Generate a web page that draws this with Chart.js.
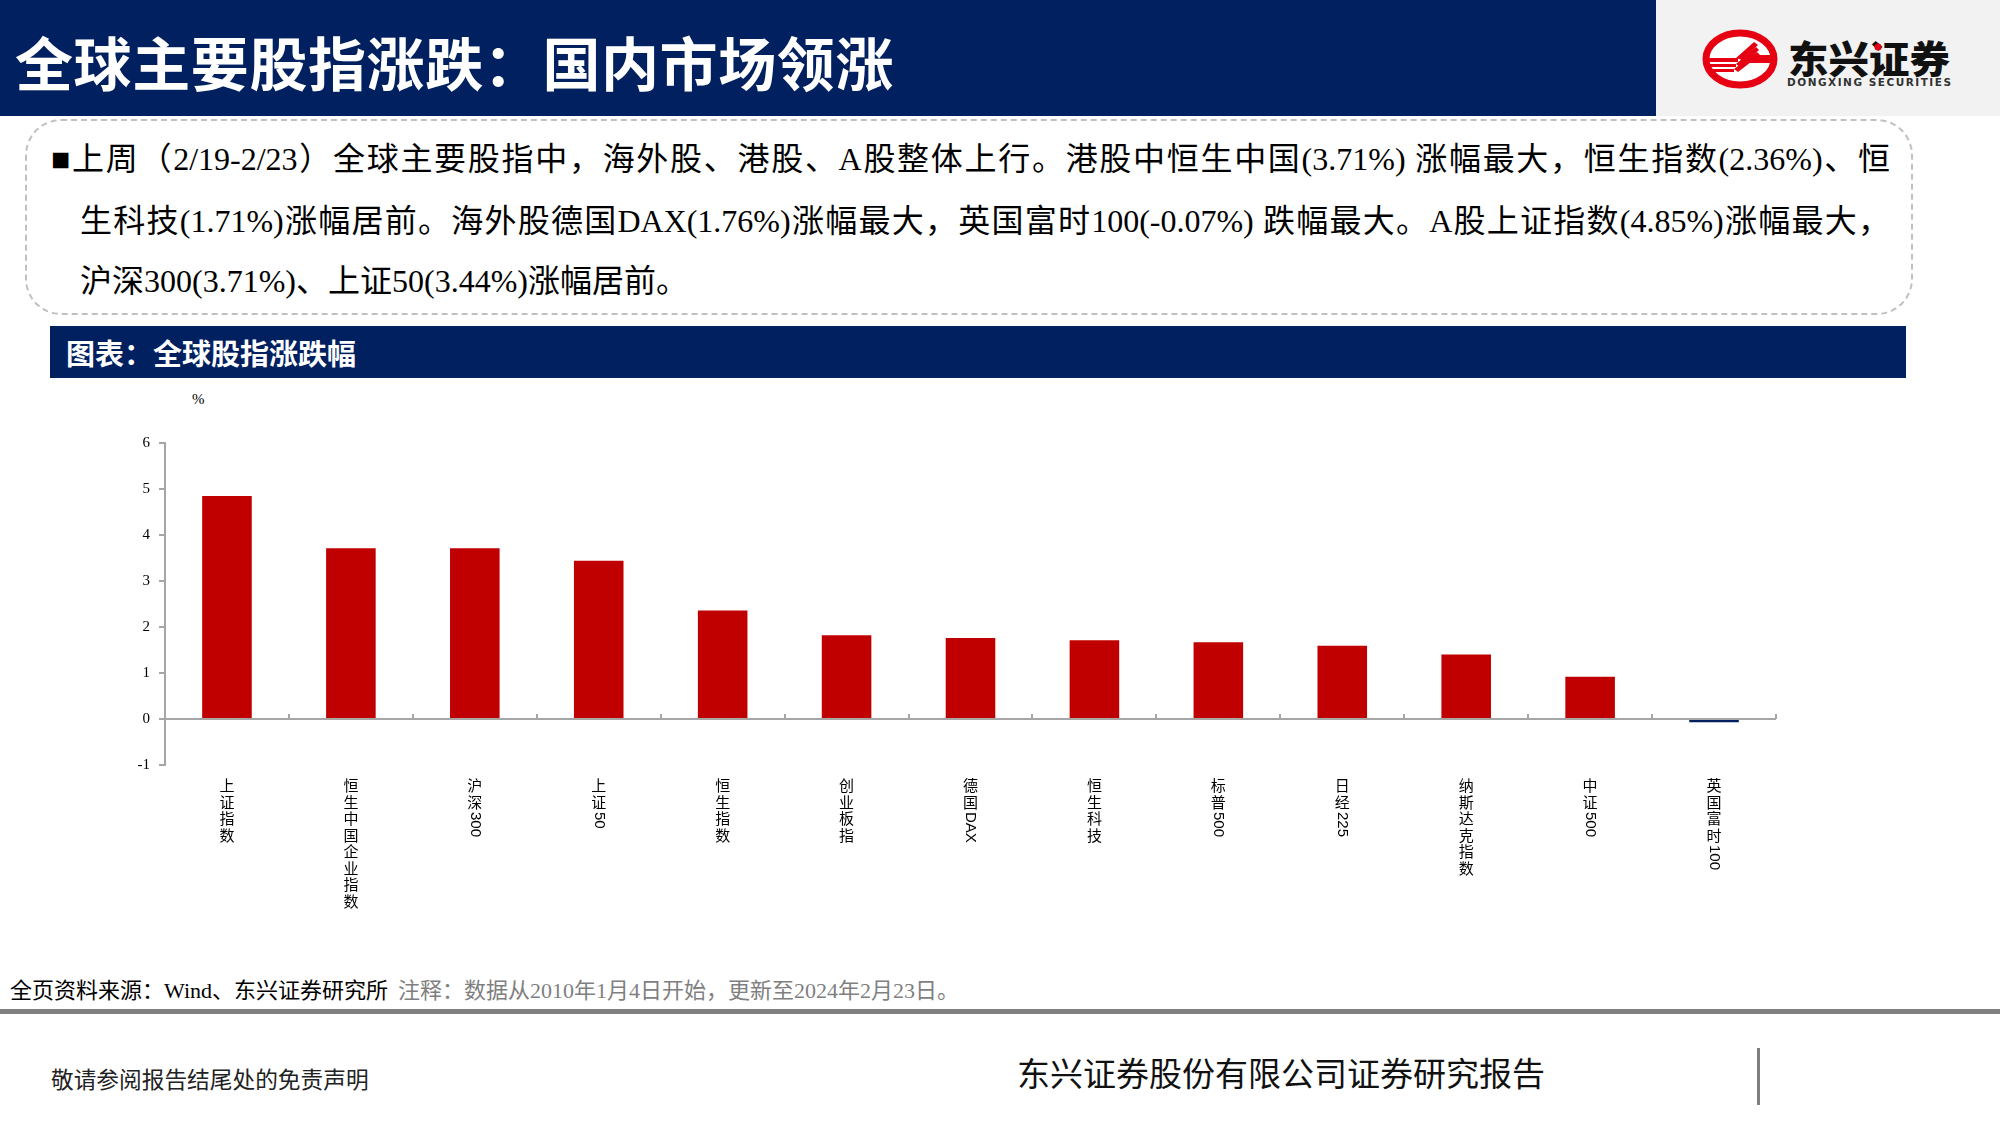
<!DOCTYPE html>
<html lang="zh-CN">
<head>
<meta charset="utf-8">
<title>全球主要股指涨跌：国内市场领涨</title>
<script src="https://cdn.jsdelivr.net/npm/chart.js@4.4.1/dist/chart.umd.min.js"></script>
<style>
    html, body {
        margin: 0;
        padding: 0;
        width: 2000px;
        height: 1125px;
        overflow: hidden;
        background: #ffffff;
        font-family: "Liberation Serif", "Noto Sans CJK SC", serif;
        color: #000;
    }
    .abs { position: absolute; }
    #header {
        left: 0; top: 0; width: 1656px; height: 116px;
        background: #002060;
    }
    #title {
        left: 15px; top: 25px;
        font-family: "Noto Sans CJK SC", sans-serif;
        font-weight: 700;
        font-size: 58px;
        letter-spacing: 0.6px;
        line-height: 72px;
        color: #fff;
        white-space: nowrap;
    }
    #logoBox {
        left: 1656px; top: 0; width: 344px; height: 116px;
        background: #f2f2f2;
    }
    #summary {
        left: 25px; top: 119px; width: 1884px; height: 192px;
        border: 2px dashed #c0c0c0;
        border-radius: 36px;
    }
    .line {
        font-size: 32px;
        line-height: 40px;
        white-space: nowrap;
        overflow: visible;
    }
    .justify {
        text-align: justify;
        text-align-last: justify;
        text-justify: inter-character;
    }
    #chartHead {
        left: 50px; top: 326px; width: 1856px; height: 52px;
        background: #002060;
    }
    #chartTitle {
        left: 66px; top: 333px;
        font-family: "Noto Sans CJK SC", sans-serif;
        font-weight: 700;
        font-size: 29px;
        line-height: 38px;
        color: #fff;
        white-space: nowrap;
    }
    #unit {
        left: 192px; top: 389px;
        font-size: 15px;
        line-height: 20px;
    }
    #chartWrap {
        left: 0; top: 380px; width: 1860px; height: 560px;
    }
    #source {
        left: 10px; top: 977px;
        font-size: 22px;
        line-height: 28px;
        white-space: nowrap;
    }
    #source .note { color: #7f7f7f; margin-left: 10px; }
    #rule {
        left: 0; top: 1009px; width: 2000px; height: 5px;
        background: #808080;
    }
    #disclaimer {
        left: 51px; top: 1067px;
        font-size: 22.7px;
        line-height: 28px;
        color: #222;
        white-space: nowrap;
    }
    #company {
        left: 1017px; top: 1054px;
        font-size: 33px;
        line-height: 42px;
        color: #111;
        white-space: nowrap;
    }
    #vbar {
        left: 1757px; top: 1048px; width: 3px; height: 57px;
        background: #7f7f7f;
    }
</style>
</head>
<body>

<div id="header" class="abs"></div>
<div id="title" class="abs">全球主要股指涨跌：国内市场领涨</div>

<div id="logoBox" class="abs">
    <svg width="344" height="116" viewBox="0 0 344 116">
        <ellipse cx="84" cy="59" rx="34" ry="26" fill="#fff" stroke="#e60012" stroke-width="7"/>
        <g fill="#e60012">
            <rect x="52" y="58" width="30" height="4"/>
            <rect x="52" y="64" width="28" height="3"/>
            <rect x="52" y="69" width="26" height="3"/>
            <polygon points="80,58 98,42 102,45 86,60"/>
            <polygon points="80,64 100,47 103,50 84,67"/>
            <polygon points="78,69 101,52 104,55 82,72"/>
            <rect x="92" y="55" width="26" height="8"/>
        </g>
        <text x="132" y="73" font-family="Noto Sans CJK SC" font-weight="900" font-size="38"
              textLength="162" lengthAdjust="spacingAndGlyphs" fill="#111">东兴证券</text>
        <circle cx="222" cy="47" r="3.5" fill="#e60012"/>
        <text x="131" y="86" font-family="DejaVu Sans" font-weight="bold" font-size="10.5"
              textLength="164" lengthAdjust="spacing" fill="#333">DONGXING SECURITIES</text>
    </svg>
</div>

<div id="summary" class="abs"></div>
<div class="abs line justify" style="left:51px; top:139px; width:1839px;">■上周（2/19-2/23）全球主要股指中，海外股、港股、A股整体上行。港股中恒生中国(3.71%) 涨幅最大，恒生指数(2.36%)、恒</div>
<div class="abs line justify" style="left:80px; top:201px; width:1810px;">生科技(1.71%)涨幅居前。海外股德国DAX(1.76%)涨幅最大，英国富时100(-0.07%) 跌幅最大。A股上证指数(4.85%)涨幅最大，</div>
<div class="abs line" style="left:80px; top:261px;">沪深300(3.71%)、上证50(3.44%)涨幅居前。</div>

<div id="chartHead" class="abs"></div>
<div id="chartTitle" class="abs">图表：全球股指涨跌幅</div>
<div id="unit" class="abs">%</div>

<div id="chartWrap" class="abs"><canvas id="barChart"></canvas></div>

<div id="source" class="abs">全页资料来源：Wind、东兴证券研究所<span class="note">注释：数据从2010年1月4日开始，更新至2024年2月23日。</span></div>
<div id="rule" class="abs"></div>
<div id="disclaimer" class="abs">敬请参阅报告结尾处的免责声明</div>
<div id="company" class="abs">东兴证券股份有限公司证券研究报告</div>
<div id="vbar" class="abs"></div>

<script>
// === DONNÉES ===
const categories = ['上证指数', '恒生中国企业指数', '沪深300', '上证50', '恒生指数', '创业板指',
    '德国DAX', '恒生科技', '标普500', '日经225', '纳斯达克指数', '中证500', '英国富时100'];
const changes = [4.85, 3.71, 3.71, 3.44, 2.36, 1.82, 1.76, 1.71, 1.67, 1.59, 1.40, 0.92, -0.07];
const yTickValues = [-1, 0, 1, 2, 3, 4, 5, 6];

const UP_COLOR = '#c00000';
const DOWN_COLOR = '#002060';
const AXIS_COLOR = '#a6a6a6';

// === PLUGIN : petits traits vers le haut entre catégories sur la ligne 0 ===
const innerTicks = {
    id: 'innerTicks',
    afterDatasetsDraw(chart) {
        const x = chart.scales.x;
        const y = chart.scales.y;
        const ctx = chart.ctx;
        const step = x.getPixelForValue(1) - x.getPixelForValue(0);
        const y0 = y.getPixelForValue(0);
        ctx.save();
        ctx.strokeStyle = AXIS_COLOR;
        ctx.lineWidth = 2;
        for (let i = 1; i <= categories.length; i++) {
            const px = Math.round(x.getPixelForValue(i) - step / 2);
            ctx.beginPath();
            ctx.moveTo(px, y0);
            ctx.lineTo(px, y0 - 5);
            ctx.stroke();
        }
        ctx.restore();
    }
};

// === PLUGIN : libellés verticaux (caractères chinois debout, chiffres tournés) ===
const verticalLabels = {
    id: 'verticalLabels',
    afterDraw(chart) {
        const x = chart.scales.x;
        const ctx = chart.ctx;
        const top = chart.chartArea.bottom + 13;
        ctx.save();
        ctx.fillStyle = '#000';
        categories.forEach((label, i) => {
            const cx = x.getPixelForValue(i);
            let cy = top;
            const runs = label.match(/[A-Za-z0-9]+|[^A-Za-z0-9]/g);
            runs.forEach(run => {
                if (/^[A-Za-z0-9]+$/.test(run)) {
                    ctx.font = '15px "Liberation Sans", sans-serif';
                    const w = ctx.measureText(run).width;
                    ctx.save();
                    ctx.translate(cx, cy + 1);
                    ctx.rotate(Math.PI / 2);
                    ctx.textAlign = 'left';
                    ctx.textBaseline = 'middle';
                    ctx.fillText(run, 0, 0);
                    ctx.restore();
                    cy += w + 2;
                } else {
                    ctx.font = '15px "Noto Sans CJK SC", sans-serif';
                    ctx.textAlign = 'center';
                    ctx.textBaseline = 'top';
                    ctx.fillText(run, cx, cy);
                    cy += 16.5;
                }
            });
        });
        ctx.restore();
    }
};

// === GRAPHIQUE ===
const ctx = document.getElementById('barChart').getContext('2d');
const chart = new Chart(ctx, {
    type: 'bar',
    data: {
        labels: categories,
        datasets: [{
            data: changes,
            backgroundColor: changes.map(v => v >= 0 ? UP_COLOR : DOWN_COLOR),
            borderWidth: 0,
            barPercentage: 0.4,
            categoryPercentage: 1.0
        }]
    },
    options: {
        responsive: true,
        maintainAspectRatio: false,
        devicePixelRatio: 1,
        animation: false,
        layout: {
            padding: { left: 115, right: 84, top: 63, bottom: 175 }
        },
        plugins: {
            legend: { display: false },
            tooltip: { enabled: false }
        },
        scales: {
            x: {
                display: false
            },
            y: {
                min: yTickValues[0],
                max: yTickValues[yTickValues.length - 1],
                afterFit(scale) {
                    scale.width = 50;
                },
                afterBuildTicks(scale) {
                    scale.ticks = yTickValues.map(v => ({ value: v }));
                },
                border: {
                    display: true,
                    color: AXIS_COLOR,
                    width: 2
                },
                grid: {
                    drawOnChartArea: true,
                    drawTicks: true,
                    tickLength: 6,
                    lineWidth: 2,
                    tickColor: AXIS_COLOR,
                    color: c => (c.tick && c.tick.value === 0) ? AXIS_COLOR : 'rgba(0,0,0,0)'
                },
                ticks: {
                    padding: 9,
                    color: '#000',
                    font: { family: '"Liberation Serif", serif', size: 15 }
                }
            }
        }
    },
    plugins: [innerTicks, verticalLabels]
});
</script>
</body>
</html>
